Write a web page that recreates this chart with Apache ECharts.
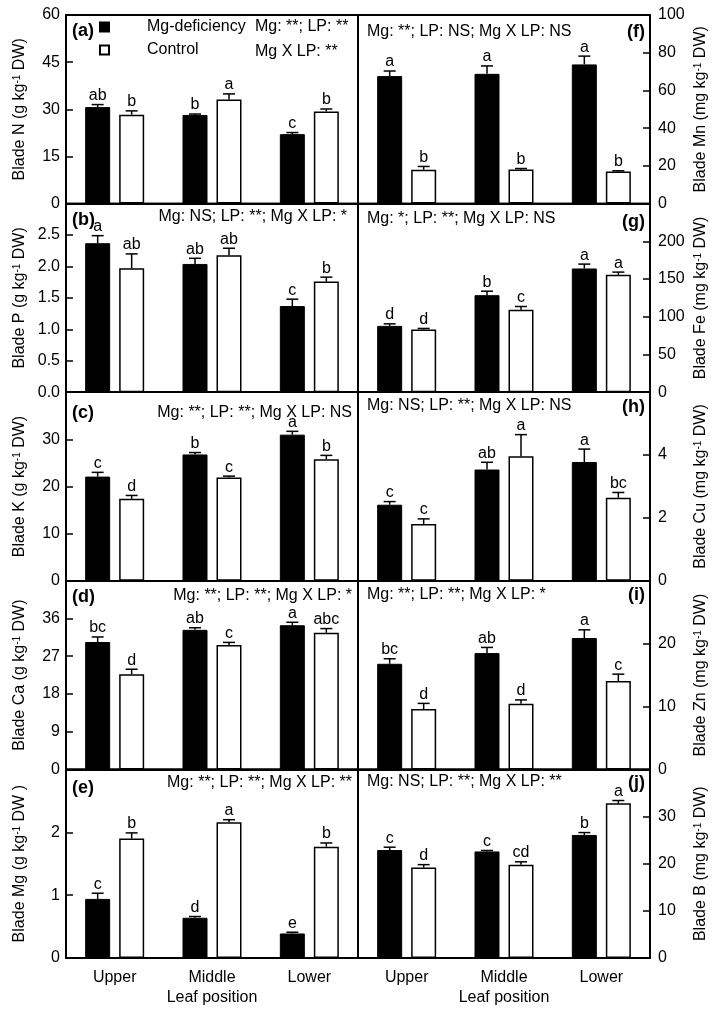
<!DOCTYPE html>
<html><head><meta charset="utf-8">
<script src="https://cdn.jsdelivr.net/npm/echarts@6/dist/echarts.min.js"></script>
<style>html,body{margin:0;padding:0;background:#fff}#c{width:723px;height:1011px}</style>
</head><body><div id="c"></div>
<script>
// ---------- data ----------
const categories = ['Upper', 'Middle', 'Lower'];
const seriesNames = ['Mg-deficiency', 'Control'];

// (a) N
const N_mg = [30.7, 28.2, 22.1], N_mgErr = [0.8, 0.3, 0.5];
const N_ct = [28.3, 33.1, 29.3], N_ctErr = [1.2, 1.8, 0.8];
const N_mgLet = ['ab', 'b', 'c'], N_ctLet = ['b', 'a', 'b'];
const N_ticks = [0, 15, 30, 45, 60], N_tickLabels = ['0', '15', '30', '45', '60'];
// (b) P
const P_mg = [2.37, 2.04, 1.37], P_mgErr = [0.12, 0.09, 0.11];
const P_ct = [1.97, 2.18, 1.76], P_ctErr = [0.23, 0.11, 0.07];
const P_mgLet = ['a', 'ab', 'c'], P_ctLet = ['ab', 'ab', 'b'];
const P_ticks = [0, 0.5, 1, 1.5, 2, 2.5, 3], P_tickLabels = ['0.0', '0.5', '1.0', '1.5', '2.0', '2.5', ''];
// (c) K
const K_mg = [22.1, 26.8, 31.0], K_mgErr = [0.9, 0.4, 0.7];
const K_ct = [17.4, 21.9, 25.8], K_ctErr = [0.7, 0.3, 0.8];
const K_mgLet = ['c', 'b', 'a'], K_ctLet = ['d', 'c', 'b'];
const K_ticks = [0, 10, 20, 30, 40], K_tickLabels = ['0', '10', '20', '30', ''];
// (d) Ca
const Ca_mg = [30.4, 33.3, 34.4], Ca_mgErr = [1.2, 0.5, 0.7];
const Ca_ct = [22.7, 29.7, 32.6], Ca_ctErr = [1.2, 0.6, 1.0];
const Ca_mgLet = ['bc', 'ab', 'a'], Ca_ctLet = ['d', 'c', 'abc'];
const Ca_ticks = [0, 9, 18, 27, 36, 45], Ca_tickLabels = ['0', '9', '18', '27', '36', ''];
// (e) Mg
const Mg_mg = [0.94, 0.64, 0.39], Mg_mgErr = [0.09, 0.02, 0.02];
const Mg_ct = [1.90, 2.16, 1.77], Mg_ctErr = [0.09, 0.04, 0.06];
const Mg_mgLet = ['c', 'd', 'e'], Mg_ctLet = ['b', 'a', 'b'];
const Mg_ticks = [0, 1, 2, 3], Mg_tickLabels = ['0', '1', '2', ''];
// (f) Mn
const Mn_mg = [67.6, 68.8, 73.8], Mn_mgErr = [2.7, 4.2, 4.4];
const Mn_ct = [17.9, 18.1, 17.0], Mn_ctErr = [1.8, 0.5, 0.4];
const Mn_mgLet = ['a', 'a', 'a'], Mn_ctLet = ['b', 'b', 'b'];
const Mn_ticks = [0, 20, 40, 60, 80, 100], Mn_tickLabels = ['0', '20', '40', '60', '80', '100'];
// (g) Fe
const Fe_mg = [87.9, 128.6, 164.0], Fe_mgErr = [2.7, 5.3, 5.8];
const Fe_ct = [83.1, 109.2, 155.6], Fe_ctErr = [1.4, 4.4, 3.6];
const Fe_mgLet = ['d', 'b', 'a'], Fe_ctLet = ['d', 'c', 'a'];
const Fe_ticks = [0, 50, 100, 150, 200, 250], Fe_tickLabels = ['0', '50', '100', '150', '200', ''];
// (h) Cu
const Cu_mg = [2.42, 3.54, 3.78], Cu_mgErr = [0.10, 0.23, 0.41];
const Cu_ct = [1.81, 3.96, 2.64], Cu_ctErr = [0.16, 0.69, 0.17];
const Cu_mgLet = ['c', 'ab', 'a'], Cu_ctLet = ['c', 'a', 'bc'];
const Cu_ticks = [0, 2, 4, 6], Cu_tickLabels = ['0', '2', '4', ''];
// (i) Zn
const Zn_mg = [16.8, 18.5, 20.9], Zn_mgErr = [0.8, 0.9, 1.3];
const Zn_ct = [9.6, 10.45, 14.05], Zn_ctErr = [0.9, 0.6, 1.1];
const Zn_mgLet = ['bc', 'ab', 'a'], Zn_ctLet = ['d', 'd', 'c'];
const Zn_ticks = [0, 10, 20, 30], Zn_tickLabels = ['0', '10', '20', ''];
// (j) B
const B_mg = [22.9, 22.6, 26.1], B_mgErr = [0.6, 0.2, 0.5];
const B_ct = [19.2, 19.8, 32.8], B_ctErr = [0.6, 0.6, 0.6];
const B_mgLet = ['c', 'c', 'b'], B_ctLet = ['d', 'cd', 'a'];
const B_ticks = [0, 10, 20, 30, 40], B_tickLabels = ['0', '10', '20', '30', ''];

// texts
const panelTags = ['(a)', '(b)', '(c)', '(d)', '(e)', '(f)', '(g)', '(h)', '(i)', '(j)'];
const axisNames = [
  'Blade N (g kg{s|-1} DW)', 'Blade P (g kg{s|-1} DW)', 'Blade K (g kg{s|-1} DW)',
  'Blade Ca (g kg{s|-1} DW)', 'Blade Mg (g kg{s|-1} DW )',
  'Blade Mn (mg kg{s|-1} DW)', 'Blade Fe (mg kg{s|-1} DW)', 'Blade Cu (mg kg{s|-1} DW)',
  'Blade Zn (mg kg{s|-1} DW)', 'Blade B (mg kg{s|-1} DW)'
];
const notes = [
  ['Mg: **; LP: **', 'Mg X LP: **'],
  ['Mg: NS; LP: **; Mg X LP: *'],
  ['Mg: **; LP: **; Mg X LP: NS'],
  ['Mg: **; LP: **; Mg X LP: *'],
  ['Mg: **; LP: **; Mg X LP: **'],
  ['Mg: **; LP: NS; Mg X LP: NS'],
  ['Mg: *; LP: **; Mg X LP: NS'],
  ['Mg: NS; LP: **; Mg X LP: NS'],
  ['Mg: **; LP: **; Mg X LP: *'],
  ['Mg: NS; LP: **; Mg X LP: **']
];
const xAxisName = 'Leaf position';

// ---------- layout ----------
const FONT = '"Liberation Sans", Arial, Helvetica, sans-serif';
const GRID_TOP = 15, PANEL_H = 188.6;
const LEFT_X = 66, MID_X = 358, RIGHT_X = 650;
const BAR_W = 25, BAR_GAP_PX = 9, OFFSET = (BAR_W + BAR_GAP_PX) / 2, CAP = 6;

const panels = [
  [N_mg, N_mgErr, N_ct, N_ctErr, N_mgLet, N_ctLet, N_ticks, N_tickLabels],
  [P_mg, P_mgErr, P_ct, P_ctErr, P_mgLet, P_ctLet, P_ticks, P_tickLabels],
  [K_mg, K_mgErr, K_ct, K_ctErr, K_mgLet, K_ctLet, K_ticks, K_tickLabels],
  [Ca_mg, Ca_mgErr, Ca_ct, Ca_ctErr, Ca_mgLet, Ca_ctLet, Ca_ticks, Ca_tickLabels],
  [Mg_mg, Mg_mgErr, Mg_ct, Mg_ctErr, Mg_mgLet, Mg_ctLet, Mg_ticks, Mg_tickLabels],
  [Mn_mg, Mn_mgErr, Mn_ct, Mn_ctErr, Mn_mgLet, Mn_ctLet, Mn_ticks, Mn_tickLabels],
  [Fe_mg, Fe_mgErr, Fe_ct, Fe_ctErr, Fe_mgLet, Fe_ctLet, Fe_ticks, Fe_tickLabels],
  [Cu_mg, Cu_mgErr, Cu_ct, Cu_ctErr, Cu_mgLet, Cu_ctLet, Cu_ticks, Cu_tickLabels],
  [Zn_mg, Zn_mgErr, Zn_ct, Zn_ctErr, Zn_mgLet, Zn_ctLet, Zn_ticks, Zn_tickLabels],
  [B_mg, B_mgErr, B_ct, B_ctErr, B_mgLet, B_ctLet, B_ticks, B_tickLabels]
];

// tag / note positions (layout only)
const tagPos = [[72, 31], [72, 220], [72, 413], [72, 597], [72, 788],
                [645, 32], [645, 222], [645, 407], [645, 595], [645, 783]];
const notePos = [[255, 27, 'left'], [347, 217, 'right'], [352, 413, 'right'], [352, 596, 'right'], [352, 783, 'right'],
                 [367, 32, 'left'], [367, 219, 'left'], [367, 406, 'left'], [367, 595, 'left'], [367, 782, 'left']];

function errSeries(i, vals, errs, lets, sign) {
  return {
    type: 'custom', xAxisIndex: i, yAxisIndex: i, z: 5, silent: true, clip: false,
    data: vals.map((v, k) => [k, v, errs[k]]),
    renderItem: function (params, api) {
      const k = api.value(0), v = api.value(1), e = api.value(2);
      const base = api.coord([k, v]);
      const top = api.coord([k, v + e]);
      const x = base[0] + sign * OFFSET;
      return {
        type: 'group', children: [
          { type: 'line', shape: { x1: x, y1: base[1], x2: x, y2: top[1] }, style: { stroke: '#000', lineWidth: 1.5 } },
          { type: 'line', shape: { x1: x - CAP, y1: top[1], x2: x + CAP, y2: top[1] }, style: { stroke: '#000', lineWidth: 1.5 } },
          { type: 'text', x: x, y: top[1] - 1, style: { text: lets[params.dataIndex], fill: '#000', font: '16px ' + FONT, align: 'center', verticalAlign: 'bottom' } }
        ]
      };
    }
  };
}

const grids = [], xAxes = [], yAxes = [], series = [], graphics = [];
panels.forEach((p, i) => {
  const [mg, mgErr, ct, ctErr, mgLet, ctLet, ticks, tickLabels] = p;
  const col = i < 5 ? 0 : 1, row = i % 5;
  const left = col === 0 ? LEFT_X : MID_X;
  const right = col === 0 ? MID_X : RIGHT_X;
  const top = GRID_TOP + row * PANEL_H;
  const isBottom = row === 4;
  grids.push({ left: left, top: top, width: right - left, height: PANEL_H, show: true, borderColor: '#000', borderWidth: 1.8, backgroundColor: 'transparent', containLabel: false });
  xAxes.push({
    type: 'category', gridIndex: i, data: categories,
    axisLine: { show: true, lineStyle: { color: '#000', width: 1.8 } },
    axisTick: { show: false },
    axisLabel: { show: isBottom, fontSize: 16, color: '#000', margin: 12, fontFamily: FONT },
    name: isBottom ? xAxisName : '', nameLocation: 'middle', nameGap: 32,
    nameTextStyle: { fontSize: 16, color: '#000', fontFamily: FONT }
  });
  yAxes.push({
    type: 'value', gridIndex: i, position: col === 0 ? 'left' : 'right',
    min: ticks[0], max: ticks[ticks.length - 1], interval: ticks[1] - ticks[0],
    axisLine: { show: true, lineStyle: { color: '#000', width: 1.8 } },
    axisTick: { show: true, inside: true, length: 7, lineStyle: { color: '#000', width: 1.5 } },
    splitLine: { show: false },
    axisLabel: {
      fontSize: 16, color: '#000', fontFamily: FONT, margin: col === 0 ? 6 : 8,
      showMinLabel: true, showMaxLabel: true,
      formatter: function (v) {
        const idx = ticks.findIndex(t => Math.abs(t - v) < 1e-9);
        return idx >= 0 ? tickLabels[idx] : '';
      }
    },
    name: axisNames[i], nameLocation: 'middle', nameRotate: 90, nameGap: col === 0 ? 38 : 43,
    nameMoveOverlap: false,
    nameTextStyle: { fontSize: 16, color: '#000', fontFamily: FONT, rich: { s: { fontSize: 10, verticalAlign: 'top', fontFamily: FONT, color: '#000' } } }
  });
  series.push({
    type: 'bar', name: seriesNames[0], xAxisIndex: i, yAxisIndex: i, data: mg, barWidth: BAR_W, barGap: (BAR_GAP_PX / BAR_W * 100) + '%',
    itemStyle: { color: '#000', borderColor: '#000', borderWidth: 1 }, silent: true
  });
  series.push({
    type: 'bar', name: seriesNames[1], xAxisIndex: i, yAxisIndex: i, data: ct, barWidth: BAR_W, barGap: (BAR_GAP_PX / BAR_W * 100) + '%',
    itemStyle: { color: '#fff', borderColor: '#000', borderWidth: 1.5 }, silent: true
  });
  series.push(errSeries(i, mg, mgErr, mgLet, -1));
  series.push(errSeries(i, ct, ctErr, ctLet, 1));

  graphics.push({
    type: 'text', x: tagPos[i][0], y: tagPos[i][1], z: 10,
    style: { text: panelTags[i], fill: '#000', font: 'bold 18px ' + FONT, align: col === 0 ? 'left' : 'right', verticalAlign: 'middle' }
  });
  notes[i].forEach((t, j) => {
    graphics.push({
      type: 'text', x: notePos[i][0], y: notePos[i][1] + j * 25, z: 10,
      style: { text: t, fill: '#000', font: '16px ' + FONT, align: notePos[i][2], verticalAlign: 'middle' }
    });
  });
});

const chart = echarts.init(document.getElementById('c'), null, { renderer: 'canvas' });
chart.setOption({
  animation: false,
  backgroundColor: '#fff',
  textStyle: { fontFamily: FONT, color: '#000' },
  legend: {
    data: seriesNames, orient: 'vertical', left: 94, top: 14, itemWidth: 9, itemHeight: 9, itemGap: 7,
    icon: 'rect', selectedMode: false,
    textStyle: { fontSize: 16, color: '#000', fontFamily: FONT, padding: [0, 0, 0, 33] }
  },
  grid: grids, xAxis: xAxes, yAxis: yAxes, series: series, graphic: graphics
});
</script>
</body></html>
